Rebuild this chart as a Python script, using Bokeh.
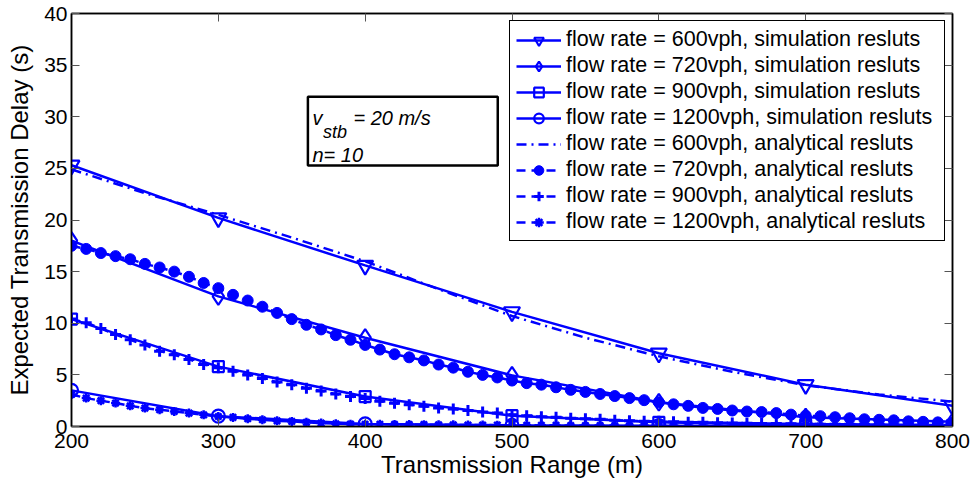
from bokeh.plotting import figure
from bokeh.models import (Legend, LegendItem, LinearAxis, Range1d, BoxAnnotation,
                          Label, FixedTicker, CustomJSTickFormatter)
from bokeh.embed import file_html
from bokeh.resources import INLINE

# ---------------- data ----------------
x_ticks = [200, 300, 400, 500, 600, 700, 800]
y_ticks = [0, 5, 10, 15, 20, 25, 30, 35, 40]

sim_x = [200, 300, 400, 500, 600, 700, 800]
sim_600 = [25.3, 20.2, 15.6, 11.1, 7.1, 4.05, 2.0]
sim_720 = [18.0, 12.6, 8.6, 4.95, 2.35, 0.9, 0.45]
sim_900 = [10.4, 5.8, 2.9, 1.05, 0.4, 0.15, 0.1]
sim_1200 = [3.5, 1.0, 0.25, 0.12, 0.08, 0.05, 0.03]

ana600_x = [200, 250, 300, 350, 400, 450, 500, 550, 600, 650, 700, 750, 800]
ana_600 = [24.9, 22.6, 20.5, 18.3, 16.0, 13.3, 10.7, 8.6, 6.8, 5.3, 4.0, 3.1, 2.4]

ana_x = list(range(200, 801, 10))
ana_720 = [17.5, 17.2, 16.8, 16.5, 16.2, 15.75, 15.4, 15.0, 14.5, 13.9,
           13.4, 12.75, 12.2, 11.6, 11.0, 10.4, 9.85, 9.4, 8.85, 8.4,
           7.9, 7.45, 7.0, 6.7, 6.4, 6.0, 5.7, 5.3, 5.0, 4.75,
           4.45, 4.2, 4.05, 3.8, 3.55, 3.35, 3.15, 2.95, 2.75, 2.55,
           2.35, 2.15, 2.0, 1.8, 1.7, 1.55, 1.45, 1.4, 1.3, 1.15,
           1.05, 1.0, 0.9, 0.8, 0.7, 0.65, 0.6, 0.5, 0.45, 0.4, 0.35]
ana_900 = [10.4, 10.05, 9.5, 8.9, 8.4, 7.9, 7.3, 6.95, 6.5, 6.0,
           5.7, 5.35, 5.0, 4.65, 4.3, 4.05, 3.7, 3.45, 3.15, 2.9,
           2.7, 2.45, 2.25, 2.1, 1.95, 1.8, 1.7, 1.55, 1.4, 1.3,
           1.15, 1.05, 0.95, 0.9, 0.8, 0.75, 0.7, 0.6, 0.55, 0.5,
           0.5, 0.45, 0.42, 0.4, 0.37, 0.35, 0.32, 0.3, 0.28, 0.26,
           0.25, 0.23, 0.22, 0.21, 0.2, 0.19, 0.18, 0.17, 0.16, 0.15, 0.15]
ana_1200 = [3.1, 2.75, 2.5, 2.27, 2.0, 1.78, 1.62, 1.46, 1.3, 1.13,
            0.97, 0.88, 0.75, 0.65, 0.55, 0.49, 0.4, 0.33, 0.27, 0.23,
            0.22, 0.21, 0.2, 0.19, 0.18, 0.17, 0.16, 0.15, 0.14, 0.13,
            0.12, 0.12, 0.11, 0.11, 0.10, 0.10, 0.09, 0.09, 0.08, 0.08,
            0.08, 0.07, 0.07, 0.07, 0.06, 0.06, 0.06, 0.05, 0.05, 0.05,
            0.05, 0.04, 0.04, 0.04, 0.04, 0.04, 0.03, 0.03, 0.03, 0.03, 0.03]

labels_sim = ["flow rate = 600vph, simulation resluts",
              "flow rate = 720vph, simulation resluts",
              "flow rate = 900vph, simulation resluts",
              "flow rate = 1200vph, simulation resluts"]
labels_ana = ["flow rate = 600vph, analytical resluts",
              "flow rate = 720vph, analytical resluts",
              "flow rate = 900vph, analytical resluts",
              "flow rate = 1200vph, analytical resluts"]

FONT = "Liberation Sans"
BLUE = "#0000FF"

p = figure(width=972, height=485, x_range=Range1d(200, 800), y_range=Range1d(0, 40),
           output_backend="svg", toolbar_location=None,
           min_border_left=71, min_border_right=20, min_border_top=13, min_border_bottom=59)
p.xgrid.visible = False
p.ygrid.visible = False
p.outline_line_color = "black"
p.outline_line_width = 1.5
p.background_fill_color = "white"
p.border_fill_color = "white"

blank = CustomJSTickFormatter(code="return '';")

def style_axis(ax, ticks, show_labels=True):
    ax.ticker = FixedTicker(ticks=ticks)
    ax.major_tick_in = 8
    ax.major_tick_out = 0
    ax.minor_tick_line_color = None
    ax.major_tick_line_color = "#555555"
    ax.major_tick_line_width = 1
    ax.axis_line_color = "black"
    ax.axis_line_width = 1.5
    ax.major_label_text_font = FONT
    ax.major_label_text_color = "black"
    if show_labels:
        ax.major_label_text_font_size = "21px"
    else:
        ax.formatter = blank
        ax.major_label_text_font_size = "1px"
        ax.major_label_standoff = 0

style_axis(p.xaxis[0], x_ticks)
style_axis(p.yaxis[0], y_ticks)
p.xaxis.major_label_standoff = 7
p.yaxis.major_label_standoff = 4
p.xaxis.axis_label = "Transmission Range (m)"
p.yaxis.axis_label = "Expected Transmission Delay (s)"
for ax in (p.xaxis[0], p.yaxis[0]):
    ax.axis_label_text_font = FONT
    ax.axis_label_text_font_size = "24px"
    ax.axis_label_text_font_style = "normal"
    ax.axis_label_text_color = "black"
p.xaxis.axis_label_standoff = 0
p.yaxis.axis_label_standoff = 8

top_ax = LinearAxis()
style_axis(top_ax, x_ticks, show_labels=False)
p.add_layout(top_ax, "above")
right_ax = LinearAxis()
style_axis(right_ax, y_ticks, show_labels=False)
p.add_layout(right_ax, "right")

LW = 2.5
items = []
sim_sets = [(sim_600, "inverted_triangle", 16), (sim_720, "diamond", 17),
            (sim_900, "square", 11), (sim_1200, "circle", 13)]
for (ys, mk, sz), lab in zip(sim_sets, labels_sim):
    lr = p.line(sim_x, ys, line_color=BLUE, line_width=LW)
    sr = p.scatter(sim_x, ys, marker=mk, size=sz, line_color=BLUE, fill_color=None,
                   line_width=2.2)
    items.append(LegendItem(label=lab, renderers=[lr, sr]))

lr = p.line(ana600_x, ana_600, line_color=BLUE, line_width=LW, line_dash="10 5 2 5")
items.append(LegendItem(label=labels_ana[0], renderers=[lr]))

ana_sets = [(ana_720, "circle", 11, 1), (ana_900, "cross", 11, 3), (ana_1200, "asterisk", 9, 2.5)]
for (ys, mk, sz, mlw), lab in zip(ana_sets, labels_ana[1:]):
    lr = p.line(ana_x, ys, line_color=BLUE, line_width=LW, line_dash="9 6")
    sr = p.scatter(ana_x, ys, marker=mk, size=sz, line_color=BLUE, fill_color=BLUE,
                   line_width=mlw)
    items.append(LegendItem(label=lab, renderers=[lr, sr]))

legend = Legend(items=items, location="top_right",
                label_text_font=FONT, label_text_font_size="21.5px",
                label_text_color="black",
                glyph_width=45, glyph_height=24, label_height=24, label_width=372,
                spacing=1, padding=6, margin=7, label_standoff=5,
                border_line_color="black", border_line_width=1, border_line_alpha=1,
                background_fill_color="white", background_fill_alpha=1)
p.add_layout(legend)

# parameter box
box = BoxAnnotation(left=361, right=490.3, top=31.94, bottom=25.29,
                    fill_color="white", fill_alpha=1, line_color="black",
                    line_alpha=1, line_width=2.5)
p.add_layout(box)
for txt, xx, yy, fs in [("v", 364.1, 29.86, "20px"), ("stb", 371.3, 28.5, "18px"),
                        ("= 20 m/s", 392.0, 29.86, "20px"), ("n= 10", 364.1, 26.26, "20px")]:
    p.add_layout(Label(x=xx, y=yy, text=txt, text_font=FONT, text_font_size=fs,
                       text_font_style="italic", text_color="black",
                       text_baseline="alphabetic", text_align="left"))

open("out.html", "w").write(file_html(p, INLINE))
